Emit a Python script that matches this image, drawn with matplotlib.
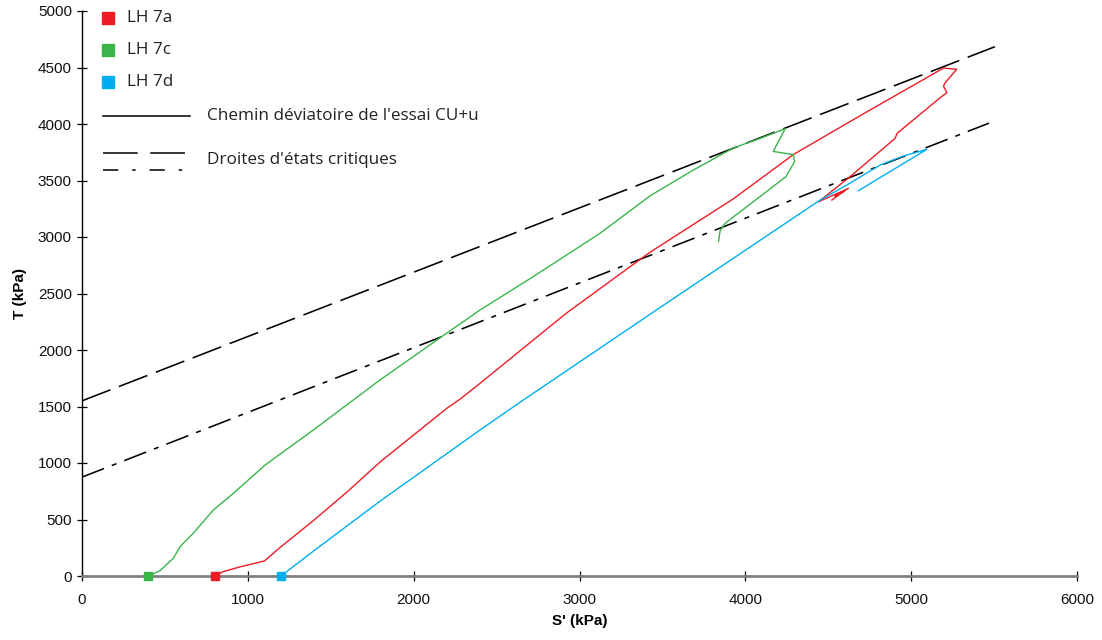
import matplotlib
matplotlib.use("Agg")
import matplotlib.pyplot as plt
from matplotlib.lines import Line2D

plt.rcParams['font.family'] = ['Liberation Sans', 'DejaVu Sans']
plt.rcParams['lines.scale_dashes'] = False

# LH 7a
s_7a = [800, 850, 950, 1100, 1200, 1400, 1600, 1800, 2000, 2200, 2280, 2400, 2920, 3420,
        3930, 4290, 4700, 5195, 5275, 5205, 5195, 5215, 5175, 4915, 4903, 4632, 4441,
        4511, 4622, 4540, 4600, 4522]
t_7a = [0, 38, 80, 133, 259, 496, 746, 1012, 1248, 1484, 1565, 1705, 2325, 2860,
        3340, 3730, 4080, 4495, 4484, 4366, 4336, 4277, 4233, 3917, 3873, 3534, 3312,
        3357, 3431, 3360, 3410, 3327]

# LH 7c
s_7c = [400, 470, 551, 591, 671, 792, 913, 1104, 1395, 1797, 2200, 2400, 2722, 3124, 3426,
        3687, 3928, 4095, 4240, 4168, 4288, 4297, 4245, 3878, 3848, 3838]
t_7c = [0, 47, 157, 259, 378, 584, 732, 982, 1292, 1735, 2150, 2354, 2650, 3033, 3365,
        3593, 3788, 3876, 3958, 3757, 3730, 3667, 3534, 3121, 3055, 2959]

# LH 7d
s_7d = [1200, 1400, 1800, 2400, 2662, 3500, 4331, 4451, 4612, 4813, 4954, 5095, 4682]
t_7d = [0, 225, 665, 1292, 1558, 2390, 3209, 3327, 3460, 3637, 3717, 3776, 3410]

# droites d'etats critiques
s_crit1 = [0, 5505]
t_crit1 = [1550, 4684]
s_crit2 = [0, 5470]
t_crit2 = [875, 4008]

red = '#ED1C24'
green = '#39B54A'
blue = '#00AEEF'

W, H = 1102, 640
fig = plt.figure(figsize=(W / 100, H / 100), dpi=100)
ax = fig.add_axes([82 / W, 64 / H, 995 / W, 565 / H])

ax.plot(s_crit1, t_crit1, color='black', lw=1.15, dashes=(22, 6.5), zorder=3)
ax.plot(s_crit2, t_crit2, color='black', lw=1.15, dashes=(17, 6, 3.6, 6), zorder=3)

ax.plot(s_7a, t_7a, color=red, lw=1.0, zorder=4)
ax.plot(s_7c, t_7c, color=green, lw=1.0, zorder=4)
ax.plot(s_7d, t_7d, color=blue, lw=1.0, zorder=4)

for s, t, c in [(s_7a, t_7a, red), (s_7c, t_7c, green), (s_7d, t_7d, blue)]:
    ax.plot(s[0], t[0], marker='s', ms=6, color=c, mec=c, zorder=6, clip_on=False)

ax.set_xlim(0, 6000)
ax.set_ylim(0, 5000)
ax.set_xticks(range(0, 6001, 1000))
ax.set_yticks(range(0, 5001, 500))

for side in ['top', 'right']:
    ax.spines[side].set_visible(False)
ax.spines['left'].set_color('black')
ax.spines['left'].set_linewidth(1.0)
ax.spines['bottom'].set_color('#808080')
ax.spines['bottom'].set_linewidth(2.0)
ax.spines['bottom'].set_zorder(5)

ax.tick_params(axis='both', direction='inout', length=6.5, width=0.9, color='black',
               labelsize=11, labelcolor='#111111')
ax.tick_params(axis='y', pad=4)
ax.tick_params(axis='x', pad=9)

ax.set_xlabel("S' (kPa)", fontsize=11, fontweight='bold', labelpad=5)
ax.set_ylabel("T (kPa)", fontsize=11, fontweight='bold', labelpad=8)

# legend drawn by hand, in pixel coordinates of the figure
def fx(px):
    return px / W

def fy(py):
    return 1 - py / H

leg_font = ['Open Sans', 'DejaVu Sans']
rows = [('LH 7a', red, 18), ('LH 7c', green, 50), ('LH 7d', blue, 82)]
for label, c, py in rows:
    fig.add_artist(Line2D([fx(108)], [fy(py)], marker='s', ms=9, color=c, mec=c, lw=0))
    fig.text(fx(127), fy(py), label, fontsize=12.3, va='center', ha='left',
             family=leg_font, color='#222222')

fig.add_artist(Line2D([fx(103), fx(190)], [fy(116), fy(116)], color='black', lw=1.1))
fig.text(fx(207), fy(116), "Chemin déviatoire de l'essai CU+u", fontsize=12.3,
         va='center', ha='left', family=leg_font, color='#222222')

fig.add_artist(Line2D([fx(103), fx(190)], [fy(153), fy(153)], color='black', lw=1.1,
                      dashes=(25, 9)))
fig.add_artist(Line2D([fx(103), fx(190)], [fy(170), fy(170)], color='black', lw=1.1,
                      dashes=(11, 10, 2.5, 10)))
fig.text(fx(207), fy(160), "Droites d'états critiques", fontsize=12.3,
         va='center', ha='left', family=leg_font, color='#222222')

fig.savefig('out.png', dpi=100)
